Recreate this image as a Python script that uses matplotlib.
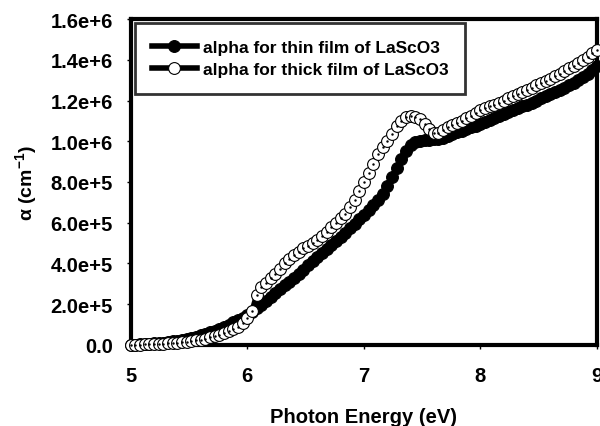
import numpy as np
import matplotlib
matplotlib.use("Agg")
import matplotlib.pyplot as plt

plt.rcParams["font.family"] = ["Liberation Sans", "DejaVu Sans"]
plt.rcParams["font.weight"] = "bold"
plt.rcParams["mathtext.fontset"] = "custom"
plt.rcParams["mathtext.rm"] = "Liberation Sans:bold"
plt.rcParams["mathtext.default"] = "rm"

# photon energy grid (eV)
energy = np.round(np.arange(5.0, 9.0001, 0.04), 2)

# absorption coefficient, units of 1e6 cm^-1
alpha_thin = [
    0.000, 0.001, 0.002, 0.003, 0.005, 0.007, 0.009, 0.011, 0.014, 0.017,
    0.020, 0.024, 0.028, 0.033, 0.040, 0.047, 0.054, 0.062, 0.070, 0.080,
    0.090, 0.100, 0.110, 0.120, 0.132, 0.145, 0.162, 0.180, 0.198, 0.216,
    0.235, 0.254, 0.273, 0.292, 0.311, 0.330, 0.350, 0.370, 0.390, 0.410,
    0.430, 0.450, 0.470, 0.490, 0.510, 0.530, 0.550, 0.572, 0.595, 0.618,
    0.640, 0.662, 0.685, 0.710, 0.740, 0.780, 0.822, 0.868, 0.912, 0.950,
    0.980, 0.995, 1.002, 1.005, 1.008, 1.010, 1.012, 1.018, 1.025, 1.035,
    1.045, 1.052, 1.060, 1.068, 1.075, 1.085, 1.095, 1.105, 1.115, 1.125,
    1.135, 1.145, 1.155, 1.165, 1.172, 1.180, 1.190, 1.200, 1.210, 1.220,
    1.230, 1.240, 1.250, 1.262, 1.275, 1.288, 1.300, 1.315, 1.330, 1.350,
    1.370,
]
alpha_thick = [
    0.000, 0.000, 0.001, 0.002, 0.003, 0.004, 0.005, 0.006, 0.007, 0.008,
    0.010, 0.012, 0.015, 0.018, 0.022, 0.026, 0.031, 0.037, 0.043, 0.050,
    0.057, 0.066, 0.077, 0.090, 0.105, 0.130, 0.165, 0.245, 0.285, 0.305,
    0.330, 0.350, 0.375, 0.400, 0.420, 0.440, 0.458, 0.475, 0.488, 0.500,
    0.515, 0.535, 0.555, 0.578, 0.600, 0.622, 0.645, 0.675, 0.710, 0.755,
    0.800, 0.845, 0.890, 0.935, 0.970, 1.000, 1.035, 1.075, 1.100, 1.118,
    1.125, 1.120, 1.108, 1.085, 1.060, 1.040, 1.040, 1.055, 1.068, 1.080,
    1.090, 1.100, 1.112, 1.125, 1.140, 1.155, 1.165, 1.172, 1.180, 1.190,
    1.200, 1.210, 1.220, 1.232, 1.240, 1.250, 1.262, 1.275, 1.285, 1.295,
    1.305, 1.318, 1.330, 1.345, 1.358, 1.370, 1.385, 1.400, 1.415, 1.435,
    1.450,
]

y_ticks = [0, 2e5, 4e5, 6e5, 8e5, 1e6, 1.2e6, 1.4e6, 1.6e6]
y_ticklabels = ["0.0", "2.0e+5", "4.0e+5", "6.0e+5", "8.0e+5",
                "1.0e+6", "1.2e+6", "1.4e+6", "1.6e+6"]
x_ticks = [5, 6, 7, 8, 9]

fig = plt.figure(figsize=(6.0, 4.27), dpi=100)
ax = fig.add_axes([0.218, 0.19, 0.777, 0.763])

ax.plot(energy, np.array(alpha_thin) * 1e6, color="black", lw=4,
        marker="o", ms=8.5, mfc="black", mec="black", mew=0.8,
        label="alpha for thin film of LaScO3", clip_on=False, zorder=2)
ax.plot(energy, np.array(alpha_thick) * 1e6, color="black", lw=4,
        marker="o", ms=8.5, mfc="white", mec="black", mew=0.8,
        label="alpha for thick film of LaScO3", clip_on=False, zorder=3)
# little dot in the centre of the open circles
ax.plot(energy, np.array(alpha_thick) * 1e6, ls="none", marker=".",
        ms=1.5, color="black", clip_on=False, zorder=3)

ax.set_xlim(5, 9)
ax.set_ylim(0, 1.6e6)
ax.set_xticks(x_ticks)
ax.set_yticks(y_ticks)
ax.set_yticklabels(y_ticklabels)
ax.tick_params(axis="both", direction="out", length=3, width=1,
               labelsize=14.5)
ax.tick_params(axis="x", pad=12)
ax.tick_params(axis="y", pad=10)
for sp in ax.spines.values():
    sp.set_linewidth(3)

ax.set_xlabel("Photon Energy (eV)", fontsize=14.5, fontweight="bold",
              labelpad=16)
ax.set_ylabel(r"α (cm$^{-1}$)", fontsize=14, fontweight="bold",
              labelpad=8)

leg = ax.legend(loc="upper left", frameon=True, fancybox=False,
                fontsize=12.5, handlelength=2.6, borderpad=0.95,
                borderaxespad=0.25, labelspacing=0.4, handletextpad=0.35)
leg.get_frame().set_edgecolor("black")
leg.get_frame().set_linewidth(2)
for t in leg.get_texts():
    t.set_fontweight("bold")

fig.savefig("out.png", dpi=100)
